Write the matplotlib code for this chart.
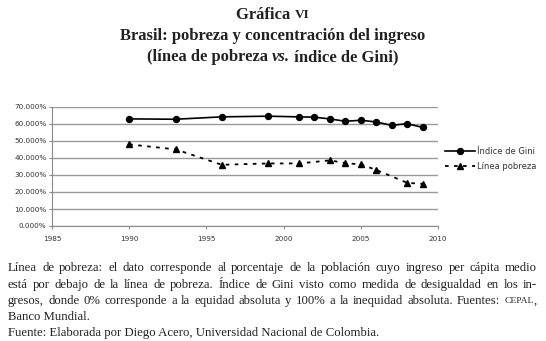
import matplotlib
matplotlib.use("Agg")

import matplotlib.pyplot as plt
from matplotlib.ticker import FuncFormatter

# ---------------------------------------------------------------------------
# Data
# ---------------------------------------------------------------------------
gini_years = [1990, 1993, 1996, 1999, 2001, 2002, 2003, 2004, 2005, 2006, 2007, 2008, 2009]
gini_vals = [63.0, 62.8, 64.2, 64.6, 64.2, 64.0, 63.0, 61.6, 62.2, 61.2, 59.2, 60.2, 58.0]

pov_years = [1990, 1993, 1996, 1999, 2001, 2003, 2004, 2005, 2006, 2008, 2009]
pov_vals = [48.0, 45.1, 36.0, 36.8, 36.8, 38.6, 37.0, 36.2, 33.0, 25.4, 24.8]

x_ticks = [1985, 1990, 1995, 2000, 2005, 2010]
y_ticks = [0, 10, 20, 30, 40, 50, 60, 70]

SERIF = "Liberation Serif"
SANS = "DejaVu Sans"

fig = plt.figure(figsize=(5.46, 3.41), dpi=100)
fig.patch.set_facecolor("white")

# ---------------------------------------------------------------------------
# Chart
# ---------------------------------------------------------------------------
ax = fig.add_axes([52 / 546, 1 - 226 / 341, (438 - 52) / 546, (226 - 107) / 341])
ax.set_xlim(1985, 2010)
ax.set_ylim(0, 70)
ax.set_xticks(x_ticks)
ax.set_yticks(y_ticks)
ax.yaxis.set_major_formatter(FuncFormatter(lambda v, p: "%.3f%%" % v))
ax.grid(axis="y", color="#9a9a9a", lw=1.0)
ax.set_axisbelow(True)
for s in ["top", "right"]:
    ax.spines[s].set_visible(False)
ax.spines["left"].set_color("#8a8a8a")
ax.spines["bottom"].set_color("#8a8a8a")
ax.tick_params(axis="both", labelsize=5.2, colors="#8a8a8a", length=2, width=0.8,
               labelcolor="#333333", pad=2)
ax.tick_params(axis="x", pad=5)
for lbl in ax.get_xticklabels() + ax.get_yticklabels():
    lbl.set_fontfamily(SANS)

ax.plot(gini_years, gini_vals, color="black", lw=1.2, marker="o", ms=4.3,
        label="Índice de Gini", clip_on=False)
ax.plot(pov_years, pov_vals, color="black", lw=1.3, ls=(0, (2, 3)), marker="^", ms=4.8,
        label="Línea pobreza", clip_on=False)

leg = fig.legend(loc="center left", bbox_to_anchor=(437 / 546, 1 - 159 / 341), frameon=False,
                 prop={"family": SANS, "size": 6}, handlelength=3.6, labelspacing=0.7,
                 handletextpad=0.3)
for t in leg.get_texts():
    t.set_color("#333333")

# ---------------------------------------------------------------------------
# Text helpers
# ---------------------------------------------------------------------------
renderer = fig.canvas.get_renderer()


def put(txt, kw, y):
    return fig.text(0, 1 - y / 341, txt, va="center", ha="left", family=SERIF, **kw)


def width(a):
    return a.get_window_extent(renderer).width


def seg_line(segments, y, x=None, center=None):
    """segments: list of (text, kwargs). Either left x or center x (pixels)."""
    arts = [put(txt, kw, y) for txt, kw in segments]
    widths = [width(a) for a in arts]
    total = sum(widths)
    cur = (center - total / 2) if center is not None else x
    for a, w in zip(arts, widths):
        a.set_x(cur / 546)
        cur += w


def justified(words, y, x0, x1, kw):
    """words: list of words, each a str or a list of (text, kwargs) pieces."""
    groups = []
    for w in words:
        pieces = [(w, kw)] if isinstance(w, str) else w
        arts = [put(t, k, y) for t, k in pieces]
        groups.append((arts, [width(a) for a in arts]))
    used = sum(sum(ws) for _, ws in groups)
    gap = (x1 - x0 - used) / (len(groups) - 1)
    cur = x0
    for arts, ws in groups:
        for a, w in zip(arts, ws):
            a.set_x(cur / 546)
            cur += w
        cur += gap


B = {"fontsize": 12, "weight": "bold", "color": "#222222"}
seg_line([("Gráfica ", B), ("VI", dict(B, fontsize=9.5))], 15, center=273)
seg_line([("Brasil: pobreza y concentración del ingreso", B)], 36, center=273)
seg_line([("(línea de pobreza ", B), ("vs.", dict(B, style="italic")),
          (" índice de Gini)", B)], 57, center=273)

C = {"fontsize": 9.2, "color": "#222222"}
line1 = "Línea de pobreza: el dato corresponde al porcentaje de la población cuyo ingreso per cápita medio"
line2 = "está por debajo de la línea de pobreza. Índice de Gini visto como medida de desigualdad en los in-"
line3 = "gresos, donde 0% corresponde a la equidad absoluta y 100% a la inequidad absoluta. Fuentes:"
justified(line1.split(), 268, 8, 537, C)
justified(line2.split(), 285, 8, 537, C)
justified(line3.split() + [[("CEPAL", dict(C, fontsize=6.8)), (",", C)]], 301, 8, 537, C)
seg_line([("Banco Mundial.", C)], 317, x=8)
seg_line([("Fuente: Elaborada por Diego Acero, Universidad Nacional de Colombia.", C)], 333, x=8)

fig.savefig("out.png", dpi=100, facecolor="white")
plt.close(fig)
